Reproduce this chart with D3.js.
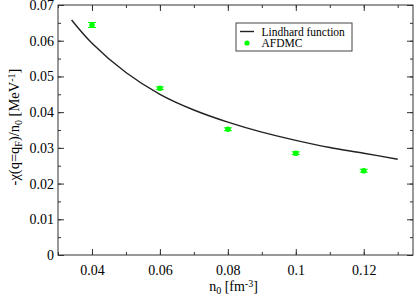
<!DOCTYPE html>
<html>
<head>
<meta charset="utf-8">
<script src="https://cdn.jsdelivr.net/npm/d3@7"></script>
<style>
  body { margin: 0; background: #fff; }
  text { font-family: "Liberation Serif", "DejaVu Serif", serif; fill: #000; }
</style>
</head>
<body>
<div id="container"></div>
<script>
// Lindhard curve
var lindX = [0.034, 0.04, 0.05, 0.06, 0.07, 0.08, 0.09, 0.10, 0.11, 0.12, 0.13],
    lindY = [0.0658, 0.0593, 0.0511, 0.0450, 0.0406, 0.0372, 0.0344, 0.0321, 0.0301, 0.0285, 0.0268];

// AFDMC points
var afX = [0.04, 0.06, 0.08, 0.10, 0.12],
    afY = [0.0644, 0.0467, 0.0352, 0.0285, 0.0236],
    afErr = [0.0007, 0.0004, 0.0004, 0.0004, 0.0004];

var xTicks = [0.04, 0.06, 0.08, 0.1, 0.12],
    yTicks = [0, 0.01, 0.02, 0.03, 0.04, 0.05, 0.06, 0.07];

var width = 415, height = 298,
    margin = {left: 58, right: 2, top: 5, bottom: 43},
    plotW = width - margin.left - margin.right,
    plotH = height - margin.top - margin.bottom;

var x = d3.scaleLinear().domain([0.03, 0.1345]).range([0, plotW]),
    y = d3.scaleLinear().domain([0, 0.07]).range([plotH, 0]);

var svg = d3.select('#container').append('svg')
  .attr('width', width)
  .attr('height', height);

var g = svg.append('g')
  .attr('transform', 'translate(' + margin.left + ',' + margin.top + ')');

var xMinor = d3.range(0.03, 0.135, 0.01),
    yMinor = d3.range(0, 0.0701, 0.005);

function fmt(d) { return d === 0 ? '0' : d3.format('')(+d.toFixed(3)); }

// minor ticks, all four sides, inward
g.append('g').attr('transform', 'translate(0,' + plotH + ')')
  .call(d3.axisBottom(x).tickValues(xMinor).tickSize(-3).tickFormat(''));
g.append('g')
  .call(d3.axisTop(x).tickValues(xMinor).tickSize(-3).tickFormat(''));
g.append('g')
  .call(d3.axisLeft(y).tickValues(yMinor).tickSize(-3).tickFormat(''));
g.append('g').attr('transform', 'translate(' + plotW + ',0)')
  .call(d3.axisRight(y).tickValues(yMinor).tickSize(-3).tickFormat(''));

// major ticks
g.append('g').attr('class', 'xaxis').attr('transform', 'translate(0,' + plotH + ')')
  .call(d3.axisBottom(x).tickValues(xTicks).tickSize(-6).tickPadding(10).tickFormat(fmt));
g.append('g')
  .call(d3.axisTop(x).tickValues(xTicks).tickSize(-6).tickFormat(''));
g.append('g').attr('class', 'yaxis')
  .call(d3.axisLeft(y).tickValues(yTicks).tickSize(-6).tickPadding(4).tickFormat(fmt));
g.append('g').attr('transform', 'translate(' + plotW + ',0)')
  .call(d3.axisRight(y).tickValues(yTicks).tickSize(-6).tickFormat(''));

g.selectAll('.domain').remove();
g.selectAll('.tick line').attr('stroke', '#333');
g.selectAll('.tick text')
  .style('font-family', '"Liberation Serif", serif')
  .style('font-size', '14px')
  .attr('fill', '#000');

// frame
g.append('rect')
  .attr('width', plotW)
  .attr('height', plotH)
  .attr('fill', 'none')
  .attr('stroke', '#333')
  .attr('stroke-width', 1);

// lindhard line
var line = d3.line()
  .x(function (d) { return x(d[0]); })
  .y(function (d) { return y(d[1]); })
  .curve(d3.curveCatmullRom);

g.append('path')
  .datum(d3.zip(lindX, lindY))
  .attr('d', line)
  .attr('fill', 'none')
  .attr('stroke', '#222')
  .attr('stroke-width', 1.4);

// AFDMC with error bars
var pts = d3.zip(afX, afY, afErr);
var eb = g.selectAll('.eb').data(pts).enter().append('g').attr('class', 'eb');
eb.append('line')
  .attr('x1', function (d) { return x(d[0]); })
  .attr('x2', function (d) { return x(d[0]); })
  .attr('y1', function (d) { return y(d[1] - d[2]); })
  .attr('y2', function (d) { return y(d[1] + d[2]); })
  .attr('stroke', '#00ff00').attr('stroke-width', 1);
[-1, 1].forEach(function (s) {
  eb.append('line')
    .attr('x1', function (d) { return x(d[0]) - 4; })
    .attr('x2', function (d) { return x(d[0]) + 4; })
    .attr('y1', function (d) { return y(d[1] + s * d[2]); })
    .attr('y2', function (d) { return y(d[1] + s * d[2]); })
    .attr('stroke', '#00ff00').attr('stroke-width', 1);
});
g.selectAll('.pt').data(pts).enter().append('circle')
  .attr('class', 'pt')
  .attr('cx', function (d) { return x(d[0]); })
  .attr('cy', function (d) { return y(d[1]); })
  .attr('r', 2.8)
  .attr('fill', '#00ff00');

// legend
var lg = svg.append('g').attr('transform', 'translate(236,23)');
lg.append('rect')
  .attr('width', 116).attr('height', 28)
  .attr('fill', '#fff').attr('stroke', '#444').attr('stroke-width', 1);
lg.append('line')
  .attr('x1', 4).attr('x2', 18).attr('y1', 8.5).attr('y2', 8.5)
  .attr('stroke', '#222').attr('stroke-width', 1.4);
lg.append('circle').attr('cx', 11).attr('cy', 20).attr('r', 2.6).attr('fill', '#00ff00');
lg.append('text').attr('x', 25.5).attr('y', 12.5).style('font-size', '11.5px').text('Lindhard function');
lg.append('text').attr('x', 25.5).attr('y', 23.5).style('font-size', '11.5px').text('AFDMC');

// x label
var xl = svg.append('text')
  .attr('x', margin.left + plotW / 2 - 2)
  .attr('y', 291)
  .attr('text-anchor', 'middle')
  .style('font-size', '14px');
xl.append('tspan').text('n');
xl.append('tspan').attr('baseline-shift', '-30%').style('font-size', '10px').text('0');
xl.append('tspan').text(' [fm');
xl.append('tspan').attr('baseline-shift', '45%').style('font-size', '10px').text('-3');
xl.append('tspan').text(']');

// y label
var yl = svg.append('text')
  .attr('transform', 'translate(19,' + (margin.top + plotH / 2 - 3) + ') rotate(-90)')
  .attr('text-anchor', 'middle')
  .style('font-size', '14.5px');
yl.append('tspan').text('-\u03c7(q=q');
yl.append('tspan').attr('baseline-shift', '-30%').style('font-size', '10px').text('F');
yl.append('tspan').text(')/n');
yl.append('tspan').attr('baseline-shift', '-30%').style('font-size', '10px').text('0');
yl.append('tspan').text(' [MeV');
yl.append('tspan').attr('baseline-shift', '45%').style('font-size', '10px').text('-1');
yl.append('tspan').text(']');
</script>
</body>
</html>
